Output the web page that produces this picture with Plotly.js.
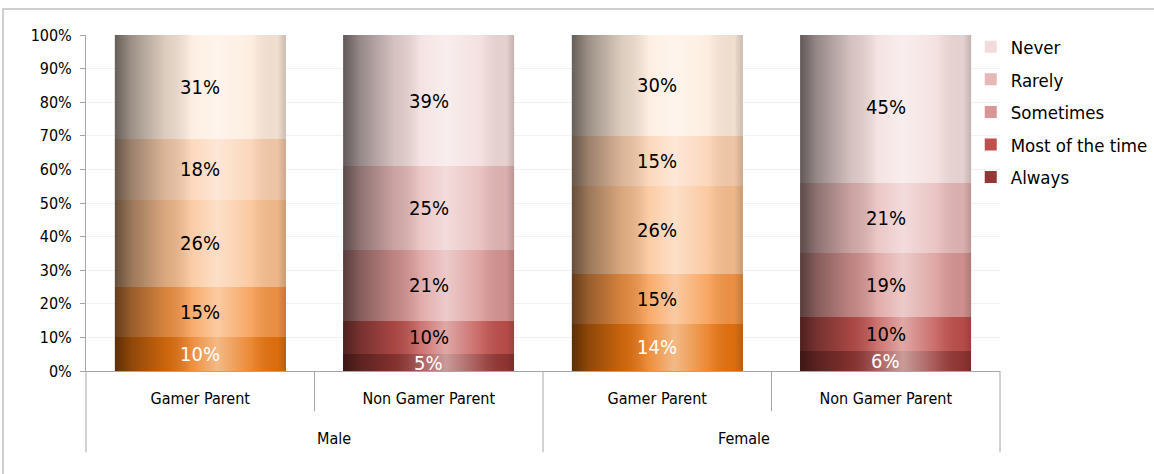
<!DOCTYPE html>
<html><head><meta charset="utf-8">
<script src="https://cdn.plot.ly/plotly-3.0.1.min.js"></script>
<style>html,body{margin:0;padding:0;background:#fff}#chart{width:1154px;height:474px}</style>
</head><body><div id="chart"></div>
<script>
var genders = ['Male','Male','Female','Female'];
var parentTypes = ['Gamer Parent','Non Gamer Parent','Gamer Parent','Non Gamer Parent'];
var seriesNames = ['Always','Most of the time','Sometimes','Rarely','Never'];
var always    = [10, 5, 14, 6];
var mostTime  = [15, 10, 15, 10];
var sometimes = [26, 21, 26, 19];
var rarely    = [18, 25, 15, 21];
var never     = [31, 39, 30, 45];
var seriesValues = [always, mostTime, sometimes, rarely, never];
var yTicks = [0,10,20,30,40,50,60,70,80,90,100];

var gamerColors    = ['#e8730e','#f79646','#fac090','#fbcfae','#fdeada'];
var nonGamerColors = ['#953735','#c0504d','#d99694','#e6b9b8','#f2dcdb'];
var textColors     = ['#ffffff','#000000','#000000','#000000','#000000'];

var FONT = 'DejaVu Sans Condensed, DejaVu Sans, sans-serif';
var catIds = genders.map(function(g,i){ return g+' / '+parentTypes[i]; });

var traces = [];
seriesNames.forEach(function(name, s){
  ['Gamer Parent','Non Gamer Parent'].forEach(function(pt){
    var idx = [];
    parentTypes.forEach(function(p,i){ if(p===pt) idx.push(i); });
    traces.push({
      type:'bar', name:name, legendgroup:name, legendrank: seriesNames.length - s,
      showlegend: pt==='Non Gamer Parent',
      x: idx.map(function(i){ return catIds[i]; }),
      y: idx.map(function(i){ return seriesValues[s][i]; }),
      marker:{color: pt==='Gamer Parent' ? gamerColors[s] : nonGamerColors[s], line:{width:0}},
      hoverinfo:'none'
    });
  });
});

// value labels (annotations so they sit above the shading overlay)
var annotations = [];
catIds.forEach(function(c, i){
  var base = 0;
  seriesValues.forEach(function(vals, s){
    annotations.push({xref:'x', yref:'y', x:c, y: base + vals[i]/2, text: vals[i]+'%',
      showarrow:false, font:{family:FONT, size:20, color:textColors[s]}, yanchor:'middle'});
    base += vals[i];
  });
});
// gender group labels
var nBars = genders.length;
var groups = [];
genders.forEach(function(g,i){
  if (!groups.length || groups[groups.length-1].name!==g) groups.push({name:g, start:i, end:i});
  else groups[groups.length-1].end = i;
});
groups.forEach(function(g){
  annotations.push({xref:'paper', yref:'paper', x:(g.start+g.end+1)/2/nBars, y:-0.2,
    text:g.name, showarrow:false, yanchor:'middle', font:{family:FONT, size:16, color:'#000'}});
});

var grad = "<svg xmlns='http://www.w3.org/2000/svg' width='100' height='100' viewBox='0 0 100 100' preserveAspectRatio='none'><defs><linearGradient id='g' x1='0' y1='0' x2='1' y2='0'>"+
  "<stop offset='0' stop-color='#000' stop-opacity='0.6'/>"+
  "<stop offset='0.1' stop-color='#000' stop-opacity='0.38'/>"+
  "<stop offset='0.3' stop-color='#000' stop-opacity='0.12'/>"+
  "<stop offset='0.45' stop-color='#fff' stop-opacity='0.2'/>"+
  "<stop offset='0.6' stop-color='#fff' stop-opacity='0.5'/>"+
  "<stop offset='0.8' stop-color='#fff' stop-opacity='0.15'/>"+
  "<stop offset='0.95' stop-color='#000' stop-opacity='0.05'/>"+
  "<stop offset='1' stop-color='#000' stop-opacity='0.2'/>"+
  "</linearGradient></defs><rect width='100' height='100' fill='url(#g)'/></svg>";
var gradUri = 'data:image/svg+xml;charset=utf-8,' + encodeURIComponent(grad);
var bw = 0.75;
var images = [];
for (var i=0;i<nBars;i++){
  images.push({source:gradUri, xref:'paper', yref:'paper', x:(i+0.5-bw/2)/nBars, y:1,
    sizex:bw/nBars, sizey:1, xanchor:'left', yanchor:'top', sizing:'stretch', layer:'above', opacity:1});
}
var shapes = [{type:'rect', xref:'paper', yref:'paper', x0:-0.0908, x1:1.3, y0:-0.5, y1:1.0774,
    line:{color:'#bfbfbf', width:1.5}, fillcolor:'rgba(0,0,0,0)', layer:'below'}];
for (var j=0;j<=nBars;j++){
  var outer = (j===0 || j===nBars || genders[j]!==genders[j-1]);
  shapes.push({type:'line', xref:'paper', yref:'paper', x0:j/nBars, x1:j/nBars, y0:0,
    y1: outer ? -0.242 : -0.12, line:{color:'#a6a6a6', width:1}});
}

var layout = {
  width:1154, height:474,
  margin:{l:86, r:154, t:35, b:103, autoexpand:false},
  paper_bgcolor:'#ffffff', plot_bgcolor:'#ffffff',
  barmode:'stack', bargap:0.25,
  font:{family:FONT, color:'#000'},
  showlegend:true,
  legend:{x:0.968, xanchor:'left', y:1.02, yanchor:'top', traceorder:'grouped',
    tracegroupgap:5.5, font:{family:FONT, size:18.5, color:'#000'}, itemwidth:30,
    bgcolor:'rgba(0,0,0,0)'},
  xaxis:{type:'category', categoryorder:'array', categoryarray:catIds,
    tickmode:'array', tickvals:catIds, ticktext:parentTypes,
    showline:true, linecolor:'#a6a6a6', linewidth:1, ticklabelstandoff:13,
    ticks:'', tickfont:{family:FONT, size:16, color:'#000'}, showgrid:false, fixedrange:true},
  yaxis:{range:[0,100], tickmode:'array', tickvals:yTicks, ticktext:yTicks.map(function(v){return v+'%';}),
    showline:true, linecolor:'#a6a6a6', linewidth:1, ticks:'outside', ticklen:5, tickcolor:'#a6a6a6',
    ticklabelstandoff:5,
    showgrid:true, gridcolor:'#f2f2f2', zeroline:false, tickfont:{family:FONT, size:16, color:'#000'}},
  images:images,
  shapes:shapes,
  annotations:annotations
};
Plotly.newPlot('chart', traces, layout, {displayModeBar:false, staticPlot:true});
</script></body></html>
